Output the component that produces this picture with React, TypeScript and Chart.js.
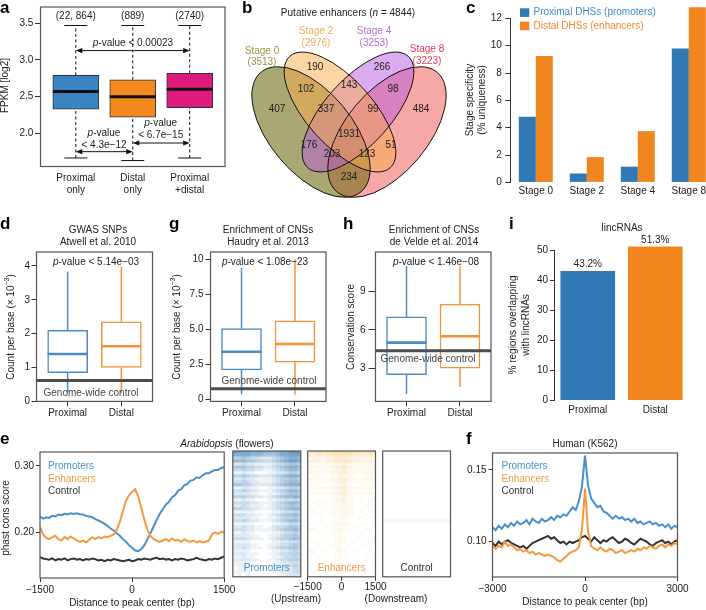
import React, { useEffect, useRef } from 'react';
import { Chart, registerables } from 'chart.js';

Chart.register(...registerables);

const FONT = "'Liberation Sans', Arial, Helvetica, sans-serif";
Chart.defaults.font.family = FONT;
Chart.defaults.font.size = 10;
Chart.defaults.color = '#222';

/* ======================= DATA ======================= */
// Panel a
const A_CATS = [['Proximal', 'only'], ['Distal', 'only'], ['Proximal', '+distal']];
const A_N = ['(22, 864)', '(889)', '(2740)'];
const A_LOW = [1.665, 1.63, 1.665];
const A_Q1 = [2.33, 2.22, 2.35];
const A_MED = [2.57, 2.5, 2.6];
const A_Q3 = [2.79, 2.73, 2.82];
const A_HIGH = [3.47, 3.47, 3.47];
const A_TICKS = [2.0, 2.5, 3.0, 3.5];
const A_TESTS = [[1, 3, 3.128], [1, 2, 1.751], [2, 3, 1.869]];
const A_PTEXT = ['< 0.00023', '< 4.3e\u221212', '< 6.7e\u221215'];

// Panel b
const B_SETS = ['Stage 0', 'Stage 2', 'Stage 4', 'Stage 8'];
const B_SIZES = ['(3513)', '(2976)', '(3253)', '(3223)'];
const B_TOTAL = 4844;
const B_COUNTS = [407, 190, 266, 484, 102, 143, 98, 337, 99, 1931, 176, 51, 203, 123, 234];

// Panel c
const C_CATS = ['Stage 0', 'Stage 2', 'Stage 4', 'Stage 8'];
const C_PROX = [4.8, 0.65, 1.15, 9.8];
const C_DIST = [9.25, 1.85, 3.75, 12.8];
const C_LABELS = ['Proximal DHSs (promoters)', 'Distal DHSs (enhancers)'];
const C_TICKS = [0, 2, 4, 6, 8, 10, 12];

// Panels d, g, h
const BOX_CATS = ['Proximal', 'Distal'];
const D_LOW = [0.27, 0.25];
const D_Q1 = [0.85, 1.0];
const D_MED = [1.4, 1.63];
const D_Q3 = [2.1, 2.35];
const D_HIGH = [3.83, 3.98];
const D_CONTROL = 0.62;
const D_TICKS = [0, 1, 2, 3, 4];

const G_LOW = [0.35, 0.35];
const G_Q1 = [2.1, 2.65];
const G_MED = [3.4, 3.95];
const G_Q3 = [5.05, 5.6];
const G_HIGH = [9.4, 10.0];
const G_CONTROL = 0.76;
const G_TICKS = [0, 2.5, 5, 7.5, 10];

const H_LOW = [1.0, 1.55];
const H_Q1 = [2.5, 3.0];
const H_MED = [5.0, 5.5];
const H_Q3 = [7.0, 8.0];
const H_HIGH = [10.95, 10.95];
const H_CONTROL = 4.36;
const H_TICKS = [3, 6, 9];

// Panel i
const I_CATS = ['Proximal', 'Distal'];
const I_VALS = [43.2, 51.3];
const I_TICKS = [0, 10, 20, 30, 40, 50];

// Panel e (Arabidopsis)
const E_X = [
  -1500, -1450, -1400, -1350, -1300, -1250, -1200, -1150, -1100, -1050,
  -1000, -950, -900, -850, -800, -750, -700, -650, -600, -550,
  -500, -450, -400, -350, -300, -250, -200, -150, -100, -50,
  0,
  50, 100, 150, 200, 250, 300, 350, 400, 450, 500,
  550, 600, 650, 700, 750, 800, 850, 900, 950, 1000,
  1050, 1100, 1150, 1200, 1250, 1300, 1350, 1400, 1450, 1500,
];
const E_PROM = [
  0.224, 0.221, 0.223, 0.222, 0.225, 0.224, 0.227, 0.226, 0.228, 0.227,
  0.229, 0.228, 0.229, 0.227, 0.227, 0.225, 0.224, 0.223, 0.220, 0.218,
  0.216, 0.213, 0.210, 0.206, 0.203, 0.199, 0.195, 0.190, 0.186, 0.181,
  0.177,
  0.173, 0.172, 0.175, 0.181, 0.190, 0.199, 0.209, 0.219, 0.228, 0.235,
  0.242, 0.246, 0.253, 0.256, 0.263, 0.265, 0.271, 0.273, 0.278, 0.279,
  0.283, 0.282, 0.286, 0.289, 0.289, 0.292, 0.294, 0.294, 0.297, 0.298,
];
const E_ENH = [
  0.208, 0.197, 0.192, 0.190, 0.193, 0.195, 0.190, 0.188, 0.193, 0.190,
  0.194, 0.191, 0.188, 0.186, 0.188, 0.185, 0.189, 0.193, 0.190, 0.193,
  0.191, 0.194, 0.193, 0.195, 0.197, 0.204, 0.216, 0.232, 0.248, 0.256,
  0.261,
  0.265, 0.254, 0.237, 0.219, 0.204, 0.195, 0.190, 0.188, 0.186, 0.188,
  0.190, 0.187, 0.191, 0.188, 0.189, 0.186, 0.190, 0.187, 0.186, 0.188,
  0.185, 0.187, 0.185, 0.186, 0.188, 0.197, 0.200, 0.198, 0.201, 0.200,
];
const E_CTRL = [
  0.163, 0.161, 0.160, 0.159, 0.161, 0.158, 0.160, 0.159, 0.161, 0.158,
  0.160, 0.161, 0.159, 0.160, 0.158, 0.160, 0.159, 0.161, 0.160, 0.158,
  0.159, 0.157, 0.159, 0.158, 0.160, 0.159, 0.158, 0.157, 0.158, 0.159,
  0.157,
  0.158, 0.160, 0.159, 0.161, 0.160, 0.159, 0.161, 0.162, 0.160, 0.161,
  0.159, 0.160, 0.158, 0.160, 0.159, 0.161, 0.160, 0.158, 0.159, 0.160,
  0.162, 0.160, 0.159, 0.158, 0.160, 0.159, 0.161, 0.160, 0.162, 0.164,
];
const E_X_TICKS = [-1500, 0, 1500];
const E_Y_TICKS = [0.2, 0.3];

// Heatmaps (intensity 0-9, rows top to bottom, columns -1500..1500)
const HEAT_TICKS = [-1500, 0, 1500];
const HEAT_PROM = [
  '8888777666788999', '7777666555677888', '4454332223456776', '6665544334567887',
  '2232211112334554', '5554433223456776', '3343322112345665', '1121100011223443',
  '4454332223456776', '2232211112344554', '3343221112345665', '5544322223456777',
  '1122110011223443', '3343221112345665', '2222110011234554', '4443322123456676',
  '1121100011223343', '3333221112345665', '2232111012334554', '4433221112345666',
  '1111100001123343', '3332211012345565', '2222110011234454', '3343221112345665',
  '1111100001122333', '2232211012334554', '3332211112345565', '1121100001123343',
  '2222110011234454', '3332211012344565', '1111000001122333', '2222110011233454',
  '2232111012344554', '1111000001122343', '2221110011233444', '1121100001123343',
  '2222110011233444', '1111000001122333', '1121100011223343', '0111000001112233',
  '1111000001122233', '0101000000112222',
];
const HEAT_ENH = [
  '5565667777665565', '3343445555443343', '1221223332221121', '3332334454333232',
  '1111112221111111', '2221123343211212', '1111112231111111', '2121122342111212',
  '0110011221100110', '2111122332111211', '1111112231111111', '0100011121000100',
  '1111122332111111', '0101011221101010', '1111112231111111', '0000011121000000',
  '1011012231101011', '0101011121101010', '1010011221100101', '0000001111000000',
  '1101011221101011', '0010011121100100', '1001001121001001', '0000001110000000',
  '1010011221010101', '0000101110010000', '1100011211000110', '0010011110001000',
  '0000001100000000', '1001001210010001', '0100001110100010', '0010011101000100',
  '0000001100000000', '1001001210010010', '0100001110000100', '0010000100010000',
  '0000101100000100', '1000001110010000', '0001000100000001', '0000001100100000',
  '0100000100000100', '0000000100000000',
];
const HEAT_CTRL = [
  '0000000000000000', '0000000000000000', '0000000000000000', '0000000000000000',
  '0000000000000000', '0000000000000000', '0000000000000000', '0000000000000000',
  '0000000000000000', '0000000000000000', '0000000000000000', '0000000000000000',
  '0000000000000000', '0000000000000000', '0000000000000000', '0000000000000000',
  '0000000000000000', '0000000000000000', '0000000000000000', '0000000000000000',
  '0000000000000000', '0000000000000000', '0000000000000000', '1111111111111111',
  '0000000000000000', '0000000000000000', '0000000000000000', '0000000000000000',
  '0000000000000000', '0000000000000000', '0000000000000000', '0000000000000000',
  '0000000000000000', '0000000000000000', '0000000000000000', '0000000000000000',
  '0000000000000000', '0000000000000000', '0000000000000000', '0000000000000000',
  '0000000000000000', '0000000000000000',
];

// Panel f (Human K562)
const F_X = [
  -3000, -2900, -2800, -2700, -2600, -2500, -2400, -2300, -2200, -2100,
  -2000, -1900, -1800, -1700, -1600, -1500, -1400, -1300, -1200, -1100,
  -1000, -900, -800, -700, -600, -500, -400, -300, -200, -100,
  0,
  100, 200, 300, 400, 500, 600, 700, 800, 900, 1000,
  1100, 1200, 1300, 1400, 1500, 1600, 1700, 1800, 1900, 2000,
  2100, 2200, 2300, 2400, 2500, 2600, 2700, 2800, 2900, 3000,
];
const F_PROM = [
  0.110, 0.108, 0.111, 0.109, 0.112, 0.110, 0.113, 0.111, 0.114, 0.112,
  0.113, 0.115, 0.112, 0.116, 0.114, 0.113, 0.116, 0.114, 0.115, 0.117,
  0.115, 0.118, 0.117, 0.119, 0.118, 0.121, 0.124, 0.122, 0.128, 0.138,
  0.160,
  0.139, 0.130, 0.127, 0.124, 0.125, 0.121, 0.120, 0.118, 0.116, 0.118,
  0.116, 0.117, 0.115, 0.116, 0.114, 0.116, 0.113, 0.114, 0.112, 0.113,
  0.114, 0.112, 0.113, 0.111, 0.112, 0.110, 0.112, 0.109, 0.111, 0.110,
];
const F_ENH = [
  0.097, 0.095, 0.097, 0.096, 0.100, 0.097, 0.098, 0.096, 0.094, 0.095,
  0.093, 0.094, 0.092, 0.093, 0.091, 0.092, 0.091, 0.090, 0.091, 0.090,
  0.089, 0.087, 0.086, 0.088, 0.090, 0.092, 0.093, 0.094, 0.096, 0.108,
  0.137,
  0.107, 0.097, 0.095, 0.094, 0.096, 0.094, 0.093, 0.095, 0.094, 0.092,
  0.093, 0.094, 0.092, 0.093, 0.094, 0.093, 0.095, 0.094, 0.096, 0.095,
  0.097, 0.096, 0.095, 0.097, 0.098, 0.096, 0.098, 0.097, 0.099, 0.098,
];
const F_CTRL = [
  0.099, 0.097, 0.100, 0.098, 0.100, 0.101, 0.099, 0.098, 0.097, 0.096,
  0.097, 0.095, 0.097, 0.099, 0.100, 0.101, 0.102, 0.103, 0.104, 0.102,
  0.103, 0.101, 0.099, 0.100, 0.098, 0.100, 0.099, 0.100, 0.101, 0.103,
  0.104,
  0.102, 0.100, 0.103, 0.101, 0.099, 0.101, 0.100, 0.102, 0.103, 0.101,
  0.099, 0.100, 0.102, 0.101, 0.099, 0.098, 0.100, 0.102, 0.101, 0.100,
  0.098, 0.097, 0.099, 0.100, 0.101, 0.099, 0.100, 0.098, 0.100, 0.101,
];
const F_X_TICKS = [-3000, 0, 3000];
const F_Y_TICKS = [0.1, 0.15];
const LINE_NAMES = ['Promoters', 'Enhancers', 'Control'];

/* ======================= STYLE ======================= */
const A_COLORS = ['#3a84c1', '#f48a1f', '#e0197d'];
const BAR_BLUE = '#3179b5';
const BAR_ORANGE = '#f2861e';
const BOX_COLORS = ['#4b8cc3', '#f39237'];
const LINE_COLORS = ['#4a90c8', '#f39a3f', '#333333'];
const MINUS = '\u2212';

/* ======================= HELPERS ======================= */
function rich(ctx: any, x: number, y: number, segs: any, o: any = {}) {
  const list = typeof segs === 'string' ? [{ t: segs }] : segs;
  const size = o.size ?? 10;
  ctx.save();
  ctx.translate(x, y);
  if (o.rot) ctx.rotate(o.rot);
  ctx.textBaseline = o.baseline ?? 'middle';
  ctx.textAlign = 'left';
  const fonts = list.map((s: any) => `${s.it || o.it ? 'italic ' : ''}${o.bold ? 'bold ' : ''}${s.size ?? size}px ${FONT}`);
  const ws = list.map((s: any, i: number) => { ctx.font = fonts[i]; return ctx.measureText(s.t).width; });
  const tot = ws.reduce((a: number, b: number) => a + b, 0);
  let cx = o.align === 'left' ? 0 : o.align === 'right' ? -tot : -tot / 2;
  list.forEach((s: any, i: number) => {
    ctx.font = fonts[i];
    ctx.fillStyle = s.color ?? o.color ?? '#222';
    ctx.fillText(s.t, cx, s.dy ?? 0);
    cx += ws[i];
  });
  ctx.restore();
}
function ln(ctx: any, x1: number, y1: number, x2: number, y2: number) {
  ctx.beginPath(); ctx.moveTo(x1, y1); ctx.lineTo(x2, y2); ctx.stroke();
}
function arrow2(ctx: any, x1: number, x2: number, y: number) {
  ln(ctx, x1 + 2, y, x2 - 2, y);
  const head = (x: number, d: number) => {
    ctx.beginPath(); ctx.moveTo(x, y); ctx.lineTo(x + d * 6.5, y - 2.6); ctx.lineTo(x + d * 6.5, y + 2.6); ctx.closePath(); ctx.fill();
  };
  head(x1, 1); head(x2, -1);
}
function frameRect(chart: any, color = '#555', lw = 1.2) {
  const { ctx, chartArea: a } = chart;
  ctx.save(); ctx.strokeStyle = color; ctx.lineWidth = lw;
  ctx.strokeRect(a.left, a.top, a.right - a.left, a.bottom - a.top);
  ctx.restore();
}
const pager = (chart: any, ox: number, oy: number) => (x: number, y: number, segs: any, o?: any) => rich(chart.ctx, x - ox, y - oy, segs, o);
const letter = (T: any, x: number, y: number, s: string) => T(x, y, s, { bold: true, size: 17, align: 'left', baseline: 'alphabetic', color: '#000' });
const fixW = (w: number) => (s: any) => { s.width = w; s.paddingTop = 0; s.paddingBottom = 0; s.paddingLeft = 0; s.paddingRight = 0; };
const fixH = (h: number) => (s: any) => { s.height = h; s.paddingTop = 0; s.paddingBottom = 0; s.paddingLeft = 0; s.paddingRight = 0; };
const setTicks = (vals: number[]) => (s: any) => { s.ticks = vals.map((v) => ({ value: v })); };
const minus = (v: any) => (Number(v) < 0 ? MINUS + Math.abs(Number(v)) : String(v));
const tickGrid = (len: number) => ({ display: true, drawOnChartArea: false, drawTicks: true, tickLength: len, color: '#333', lineWidth: 1, offset: false });
const noGrid = { display: false, drawTicks: false, offset: false };
const base = (pad: any) => ({
  responsive: false, maintainAspectRatio: false, animation: false, events: [],
  layout: { autoPadding: false, padding: pad },
  plugins: { legend: { display: false }, tooltip: { enabled: false } },
});
const shade = (rgb: number[], v: number, k: number) => {
  const f = (v / 9) * k;
  const c = rgb.map((ch) => Math.round(255 - (255 - ch) * f));
  return `rgb(${c[0]},${c[1]},${c[2]})`;
};

function drawWhiskers(chart: any, S: any, colors: string[], o: any) {
  const { ctx } = chart; const xs = chart.scales.x, ys = chart.scales.y;
  ctx.save();
  S.q1.forEach((_: any, i: number) => {
    const cx = xs.getPixelForValue(i + 1);
    ctx.strokeStyle = colors[i]; ctx.lineWidth = o.lw;
    ctx.setLineDash(o.dash || []);
    ln(ctx, cx, ys.getPixelForValue(S.q3[i]), cx, ys.getPixelForValue(S.high[i]));
    ln(ctx, cx, ys.getPixelForValue(S.low[i]), cx, ys.getPixelForValue(S.q1[i]));
    ctx.setLineDash([]);
    if (o.cap) {
      ln(ctx, cx - o.cap, ys.getPixelForValue(S.high[i]), cx + o.cap, ys.getPixelForValue(S.high[i]));
      ln(ctx, cx - o.cap, ys.getPixelForValue(S.low[i]), cx + o.cap, ys.getPixelForValue(S.low[i]));
    }
  });
  ctx.restore();
}
function drawMedians(chart: any, S: any, colors: string[], half: number, lw: number) {
  const { ctx } = chart; const xs = chart.scales.x, ys = chart.scales.y;
  ctx.save();
  S.med.forEach((m: number, i: number) => {
    const cx = xs.getPixelForValue(i + 1); const y = ys.getPixelForValue(m);
    ctx.strokeStyle = colors[i]; ctx.lineWidth = lw;
    ln(ctx, cx - half, y, cx + half, y);
  });
  ctx.restore();
}

/* ======================= PANEL a ======================= */
function buildA(ox: number, oy: number, w: number, h: number) {
  const L = 40.5, T = 7, R = 225, B = 166.5;
  const S = { low: A_LOW, q1: A_Q1, med: A_MED, q3: A_Q3, high: A_HIGH };
  const blk = ['#111', '#111', '#111'];
  return {
    type: 'bar',
    data: { datasets: [{ data: A_Q1.map((q, i) => ({ x: i + 1, y: [q, A_Q3[i]] })), backgroundColor: A_COLORS, borderColor: '#333', borderWidth: 1, borderSkipped: false, barThickness: 46 }] },
    options: {
      ...base({ left: 0, top: T - oy, right: ox + w - R, bottom: 0 }),
      scales: {
        x: { type: 'linear', offset: false, min: 0.38, max: 3.62, afterBuildTicks: setTicks([1, 2, 3]), afterFit: fixH(oy + h - B), grid: noGrid, border: { display: false }, ticks: { padding: 5.5, autoSkip: false, maxRotation: 0, callback: (v: any) => A_CATS[Number(v) - 1] } },
        y: { type: 'linear', min: 1.549, max: 3.722, afterBuildTicks: setTicks(A_TICKS), afterFit: fixW(L - ox), grid: tickGrid(5.5), border: { display: false }, ticks: { padding: 1.7, callback: (v: any) => Number(v).toFixed(1) } },
      },
    },
    plugins: [{
      id: 'pa',
      beforeDatasetsDraw(chart: any) { drawWhiskers(chart, S, blk, { lw: 1, dash: [3, 2.5], cap: 11.5 }); },
      afterDatasetsDraw(chart: any) { drawMedians(chart, S, blk, 23, 3); },
      afterDraw(chart: any) {
        const { ctx } = chart; const xs = chart.scales.x, ys = chart.scales.y;
        frameRect(chart, '#555', 1.2);
        const T2 = pager(chart, ox, oy);
        A_N.forEach((s, i) => rich(ctx, xs.getPixelForValue(i + 1), 16.7 - oy, s));
        ctx.save(); ctx.strokeStyle = '#111'; ctx.fillStyle = '#111'; ctx.lineWidth = 1;
        A_TESTS.forEach(([a, b, lv]) => arrow2(ctx, xs.getPixelForValue(a), xs.getPixelForValue(b), ys.getPixelForValue(lv)));
        ctx.restore();
        T2(133, 43.5, [{ t: 'p', it: true }, { t: '-value ' + A_PTEXT[0] }]);
        T2(104, 133, [{ t: 'p', it: true }, { t: '-value' }]);
        T2(104, 145, A_PTEXT[1]);
        T2(160.7, 123.7, [{ t: 'p', it: true }, { t: '-value' }]);
        T2(160.7, 135.4, A_PTEXT[2]);
        T2(5.5, 85.5, 'FPKM [log2]', { rot: -Math.PI / 2 });
        letter(T2, 0, 13, 'a');
      },
    }],
  };
}

/* ======================= PANEL b (Venn) ======================= */
const VENN_SHAPES = [
  { cx: 311, cy: 132, a: 78, b: 41, rot: 50, fill: 'rgba(112,108,22,0.6)' },
  { cx: 340, cy: 112, a: 75, b: 33, rot: 48, fill: 'rgba(252,172,76,0.5)' },
  { cx: 358, cy: 112, a: 75, b: 33, rot: -48, fill: 'rgba(186,92,222,0.5)' },
  { cx: 387, cy: 132, a: 78, b: 41, rot: -50, fill: 'rgba(236,82,78,0.5)' },
];
const VENN_ORDER = [3, 0, 2, 1];
const VENN_LABEL_XY = [[277, 109], [315, 67], [382, 67], [421, 109], [306, 89.5], [349, 85], [393, 89.5], [326, 109], [373, 109], [349, 134], [309, 145], [391, 145], [332, 154], [367, 154], [349, 177]];
const VENN_SET_XY = [[262, 51], [316, 31.6], [374, 31.6], [427, 49.5]];
const VENN_SET_COLORS = ['#96953f', '#f5ab55', '#b66fd6', '#e23a57'];

function buildB(ox: number, oy: number, w: number, h: number) {
  const L = 245, T = 28, R = 455, B = 200;
  return {
    type: 'scatter',
    data: { datasets: [{ data: B_COUNTS.map((_, i) => ({ x: VENN_LABEL_XY[i][0], y: VENN_LABEL_XY[i][1] })), pointRadius: 0 }] },
    options: {
      ...base({ left: L - ox, top: T - oy, right: ox + w - R, bottom: oy + h - B }),
      scales: {
        x: { type: 'linear', min: L, max: R, display: false },
        y: { type: 'linear', min: T, max: B, reverse: true, display: false },
      },
    },
    plugins: [{
      id: 'pb',
      beforeDatasetsDraw(chart: any) {
        const { ctx } = chart; const xs = chart.scales.x, ys = chart.scales.y;
        ctx.save();
        const path = (e: any) => { ctx.beginPath(); ctx.ellipse(xs.getPixelForValue(e.cx), ys.getPixelForValue(e.cy), e.a, e.b, (e.rot * Math.PI) / 180, 0, Math.PI * 2); };
        VENN_ORDER.forEach((k) => { const e = VENN_SHAPES[k]; path(e); ctx.fillStyle = e.fill; ctx.fill(); });
        ctx.strokeStyle = '#111'; ctx.lineWidth = 1;
        VENN_SHAPES.forEach((e) => { path(e); ctx.stroke(); });
        ctx.restore();
      },
      afterDatasetsDraw(chart: any) {
        const { ctx } = chart; const meta = chart.getDatasetMeta(0);
        meta.data.forEach((pt: any, i: number) => rich(ctx, pt.x, pt.y, String(B_COUNTS[i])));
      },
      afterDraw(chart: any) {
        const T2 = pager(chart, ox, oy);
        T2(348, 13.5, [{ t: 'Putative enhancers (' }, { t: 'n', it: true }, { t: ' = ' + B_TOTAL + ')' }]);
        B_SETS.forEach((s, i) => {
          T2(VENN_SET_XY[i][0], VENN_SET_XY[i][1], s, { color: VENN_SET_COLORS[i] });
          T2(VENN_SET_XY[i][0], VENN_SET_XY[i][1] + 11.5, B_SIZES[i], { color: VENN_SET_COLORS[i] });
        });
        letter(T2, 242, 13, 'b');
      },
    }],
  };
}

/* ======================= PANEL c ======================= */
function buildC(ox: number, oy: number, w: number, h: number) {
  const L = 510.3, T = 18.3, R = 714.3, B = 182.4;
  return {
    type: 'bar',
    data: {
      labels: C_CATS,
      datasets: [
        { data: C_PROX, backgroundColor: BAR_BLUE, borderWidth: 0, categoryPercentage: 0.667, barPercentage: 1, clip: false },
        { data: C_DIST, backgroundColor: BAR_ORANGE, borderWidth: 0, categoryPercentage: 0.667, barPercentage: 1, clip: false },
      ],
    },
    options: {
      ...base({ left: 0, top: T - oy, right: ox + w - R, bottom: 0 }),
      scales: {
        x: { type: 'category', afterFit: fixH(oy + h - B), grid: noGrid, border: { display: false }, ticks: { padding: 3, autoSkip: false, maxRotation: 0 } },
        y: { type: 'linear', min: 0, max: 12, afterBuildTicks: setTicks(C_TICKS), afterFit: fixW(L - ox), grid: tickGrid(5), border: { display: true, color: '#333', width: 1 }, ticks: { padding: 3.5 } },
      },
    },
    plugins: [{
      id: 'pc',
      afterDraw(chart: any) {
        const { ctx } = chart;
        const T2 = pager(chart, ox, oy);
        ctx.save();
        ctx.fillStyle = BAR_BLUE; ctx.fillRect(520 - ox, 8.3 - oy, 9.3, 8.6);
        ctx.fillStyle = BAR_ORANGE; ctx.fillRect(520 - ox, 21.6 - oy, 9.3, 8.6);
        ctx.restore();
        T2(533.5, 12.7, C_LABELS[0], { align: 'left', color: '#3f8cc9' });
        T2(533.5, 26, C_LABELS[1], { align: 'left', color: '#f28a2a' });
        T2(470.5, 100, 'Stage specificity', { rot: -Math.PI / 2 });
        T2(482.7, 100, '(% uniqueness)', { rot: -Math.PI / 2 });
        letter(T2, 466, 13, 'c');
      },
    }],
  };
}

/* ======================= PANELS d, g, h ======================= */
function buildBox(cfg: any) {
  return (ox: number, oy: number, w: number, h: number) => {
    const [L, T, R, B] = cfg.frame;
    const S = cfg.stats;
    return {
      type: 'bar',
      data: { datasets: [{ data: S.q1.map((q: number, i: number) => ({ x: i + 1, y: [q, S.q3[i]] })), backgroundColor: '#ffffff', borderColor: BOX_COLORS, borderWidth: 1.5, borderSkipped: false, barThickness: 40 }] },
      options: {
        ...base({ left: 0, top: T - oy, right: ox + w - R, bottom: 0 }),
        scales: {
          x: { type: 'linear', offset: false, min: 0.42, max: 2.58, afterBuildTicks: setTicks([1, 2]), afterFit: fixH(oy + h - B), grid: tickGrid(5), border: { display: false }, ticks: { padding: 1, autoSkip: false, maxRotation: 0, callback: (v: any) => BOX_CATS[Number(v) - 1] } },
          y: { type: 'linear', min: cfg.yMin, max: cfg.yMax, afterBuildTicks: setTicks(cfg.ticks), afterFit: fixW(L - ox), grid: tickGrid(cfg.tl), border: { display: false }, ticks: { padding: cfg.tp, callback: cfg.fmt } },
        },
      },
      plugins: [{
        id: 'pbox',
        beforeDatasetsDraw(chart: any) { drawWhiskers(chart, S, BOX_COLORS, { lw: 1.5 }); },
        afterDatasetsDraw(chart: any) {
          drawMedians(chart, S, BOX_COLORS, 20, 2.6);
          const { ctx, chartArea: a } = chart; const ys = chart.scales.y;
          ctx.save(); ctx.strokeStyle = '#4d4d4d'; ctx.lineWidth = 3;
          const y = ys.getPixelForValue(cfg.control);
          ln(ctx, a.left, y, a.right, y);
          ctx.restore();
        },
        afterDraw(chart: any) {
          frameRect(chart, '#555', 1.2);
          const T2 = pager(chart, ox, oy);
          T2(cfg.ctrlXY[0], cfg.ctrlXY[1], 'Genome-wide control', { color: '#444' });
          T2(cfg.titleX, 230.6, cfg.title[0]);
          T2(cfg.titleX, 242.7, cfg.title[1]);
          T2(cfg.pX, 261.8, [{ t: 'p', it: true }, { t: '-value ' + cfg.p }]);
          T2(cfg.yTitleX, 327, cfg.yTitle, { rot: -Math.PI / 2 });
          letter(T2, cfg.letterX, 228.5, cfg.letter);
        },
      }],
    };
  };
}
const COUNT_TITLE = [{ t: 'Count per base (\u00d7 10' }, { t: MINUS + '3', size: 7, dy: -4 }, { t: ')' }];
const buildD = buildBox({
  frame: [36.5, 252, 152.5, 401.4], yMin: 0, yMax: 4.41, ticks: D_TICKS, tl: 5, tp: 1.5, fmt: (v: any) => String(v),
  stats: { low: D_LOW, q1: D_Q1, med: D_MED, q3: D_Q3, high: D_HIGH }, control: D_CONTROL, ctrlXY: [91, 393],
  title: ['GWAS SNPs', 'Atwell et al. 2010'], titleX: 98, p: '< 5.14e' + MINUS + '03', pX: 96, yTitle: COUNT_TITLE, yTitleX: 11.5, letter: 'd', letterX: 0,
});
const buildG = buildBox({
  frame: [210.5, 252, 326, 401.4], yMin: -0.15, yMax: 10.52, ticks: G_TICKS, tl: 5, tp: 2, fmt: (v: any) => (Number(v) === 0 ? '0' : Number(v) === 10 ? '10' : Number(v).toFixed(1)),
  stats: { low: G_LOW, q1: G_Q1, med: G_MED, q3: G_Q3, high: G_HIGH }, control: G_CONTROL, ctrlXY: [269, 380.8],
  title: ['Enrichment of CNSs', 'Haudry et al. 2013'], titleX: 268, p: '< 1.08e' + MINUS + '23', pX: 265, yTitle: COUNT_TITLE, yTitleX: 177.5, letter: 'g', letterX: 169,
});
const buildH = buildBox({
  frame: [375.5, 252, 491, 401.4], yMin: 0.42, yMax: 12.06, ticks: H_TICKS, tl: 7, tp: 3, fmt: (v: any) => String(v),
  stats: { low: H_LOW, q1: H_Q1, med: H_MED, q3: H_Q3, high: H_HIGH }, control: H_CONTROL, ctrlXY: [428, 359.4],
  title: ['Enrichment of CNSs', 'de Velde et al. 2014'], titleX: 434, p: '< 1.46e' + MINUS + '08', pX: 436, yTitle: 'Conservation score', yTitleX: 351, letter: 'h', letterX: 343,
});

/* ======================= PANEL i ======================= */
function buildI(ox: number, oy: number, w: number, h: number) {
  const L = 554, T = 250.5, R = 689, B = 400.6;
  return {
    type: 'bar',
    data: { labels: I_CATS, datasets: [{ data: I_VALS, backgroundColor: [BAR_BLUE, BAR_ORANGE], borderWidth: 0, barPercentage: 0.81, categoryPercentage: 1, clip: false }] },
    options: {
      ...base({ left: 0, top: T - oy, right: ox + w - R, bottom: 0 }),
      scales: {
        x: { type: 'category', afterFit: fixH(oy + h - B), grid: noGrid, border: { display: false }, ticks: { padding: 3.7, autoSkip: false, maxRotation: 0 } },
        y: { type: 'linear', min: 0, max: 50, afterBuildTicks: setTicks(I_TICKS), afterFit: fixW(L - ox), grid: tickGrid(4), border: { display: true, color: '#333', width: 1 }, ticks: { padding: 2 } },
      },
    },
    plugins: [{
      id: 'pi',
      afterDraw(chart: any) {
        const { ctx } = chart; const meta = chart.getDatasetMeta(0);
        meta.data.forEach((bar: any, i: number) => rich(ctx, bar.x, bar.y - 6.5, I_VALS[i].toFixed(1) + '%'));
        const T2 = pager(chart, ox, oy);
        T2(622, 228, 'lincRNAs');
        T2(513.5, 325, '% regions overlapping', { rot: -Math.PI / 2 });
        T2(526, 325, 'with lincRNAs', { rot: -Math.PI / 2 });
        letter(T2, 509, 228.5, 'i');
      },
    }],
  };
}

/* ======================= LINE PANELS e, f ======================= */
function buildLine(cfg: any) {
  return (ox: number, oy: number, w: number, h: number) => {
    const [L, T, R, B] = cfg.frame;
    const order = [1, 0, 2];
    return {
      type: 'line',
      data: {
        datasets: order.map((k) => ({
          data: cfg.X.map((x: number, i: number) => ({ x, y: cfg.series[k][i] })),
          borderColor: LINE_COLORS[k], borderWidth: 2, pointRadius: 0, tension: 0, fill: false,
        })),
      },
      options: {
        ...base({ left: 0, top: T - oy, right: ox + w - R, bottom: 0 }),
        scales: {
          x: { type: 'linear', min: cfg.xMin, max: cfg.xMax, afterBuildTicks: setTicks(cfg.xt), afterFit: fixH(oy + h - B), grid: tickGrid(4), border: { display: false }, ticks: { padding: cfg.xp, autoSkip: false, maxRotation: 0, callback: minus } },
          y: { type: 'linear', min: cfg.yMin, max: cfg.yMax, afterBuildTicks: setTicks(cfg.yt), afterFit: fixW(L - ox), grid: tickGrid(4), border: { display: false }, ticks: { padding: 2, callback: (v: any) => Number(v).toFixed(2) } },
        },
      },
      plugins: [{
        id: 'pline',
        afterDraw(chart: any) {
          frameRect(chart, '#555', 1.2);
          const T2 = pager(chart, ox, oy);
          LINE_NAMES.forEach((n, k) => T2(cfg.legX, 466.7 + k * 12.1, n, { align: 'left', color: LINE_COLORS[k] }));
          T2(cfg.xTitle[0], cfg.xTitle[1], 'Distance to peak center (bp)');
          T2(cfg.titleXY[0], cfg.titleXY[1], cfg.title);
          if (cfg.yTitle) T2(cfg.yTitle[0], cfg.yTitle[1], cfg.yTitle[2], { rot: -Math.PI / 2 });
          letter(T2, cfg.letterX, 443.5, cfg.letter);
        },
      }],
    };
  };
}
const buildE = buildLine({
  frame: [40, 452, 224.2, 578], X: E_X, series: [E_PROM, E_ENH, E_CTRL], xMin: -1500, xMax: 1500, xt: E_X_TICKS, xp: 2.5,
  yMin: 0.1316, yMax: 0.321, yt: E_Y_TICKS, legX: 48, xTitle: [132, 603.5], titleXY: [227, 443.8],
  title: [{ t: 'Arabidopsis', it: true }, { t: ' (flowers)' }], yTitle: [6, 518, 'phast cons score'], letter: 'e', letterX: 0,
});
const buildF = buildLine({
  frame: [492.5, 453, 677.5, 577], X: F_X, series: [F_PROM, F_ENH, F_CTRL], xMin: -3000, xMax: 3000, xt: F_X_TICKS, xp: 2,
  yMin: 0.0753, yMax: 0.1618, yt: F_Y_TICKS, legX: 501.5, xTitle: [585, 602.5], titleXY: [585, 443.8],
  title: 'Human (K562)', yTitle: null, letter: 'f', letterX: 466,
});

/* ======================= HEATMAPS ======================= */
function buildHeat(rows: string[], rgb: number[], k: number, frame: number[], label: string, labelColor: string, withAxis: boolean) {
  return (ox: number, oy: number, w: number, h: number) => {
    const [L, T, R, B] = frame;
    const cols = rows[0].length;
    const scales: any = {
      x: { type: 'linear', stacked: true, min: 0, max: cols, display: false },
      y: { type: 'category', stacked: true, display: false },
    };
    let padBottom = oy + h - B;
    if (withAxis) {
      scales.x2 = { type: 'linear', axis: 'x', position: 'bottom', min: -1500, max: 1500, afterBuildTicks: setTicks(HEAT_TICKS), afterFit: fixH(oy + h - B), grid: tickGrid(4), border: { display: false }, ticks: { padding: 0, autoSkip: false, maxRotation: 0, callback: minus } };
      padBottom = 0;
    }
    return {
      type: 'bar',
      data: {
        labels: rows.map((_, i) => String(i)),
        datasets: Array.from({ length: cols }, (_, j) => ({
          data: rows.map(() => 1),
          backgroundColor: rows.map((r) => shade(rgb, Number(r[j]), k)),
          borderWidth: 0, barPercentage: 1, categoryPercentage: 1, inflateAmount: 0.6,
        })),
      },
      options: { ...base({ left: L - ox, top: T - oy, right: ox + w - R, bottom: padBottom }), indexAxis: 'y', scales },
      plugins: [{
        id: 'pheat',
        afterDraw(chart: any) {
          frameRect(chart, '#555', 1.2);
          const a = chart.chartArea;
          rich(chart.ctx, (a.left + a.right) / 2, 568.6 - oy, label, { color: labelColor });
          if (withAxis) {
            const T2 = pager(chart, ox, oy);
            T2(296, 599, '(Upstream)');
            T2(396, 599, '(Downstream)');
          }
        },
      }],
    };
  };
}
const buildHeatP = buildHeat(HEAT_PROM, [40, 110, 170], 0.72, [232.8, 451, 300.8, 576.8], 'Promoters', '#4a90c8', false);
const buildHeatE = buildHeat(HEAT_ENH, [245, 170, 50], 0.55, [307.7, 451, 375.5, 576.8], 'Enhancers', '#f39a3f', true);
const buildHeatC = buildHeat(HEAT_CTRL, [150, 150, 150], 0.9, [382.7, 451, 450.5, 576.8], 'Control', '#333', false);

/* ======================= COMPONENTS ======================= */
function Panel({ x, y, w, h, build }: any) {
  const ref = useRef<HTMLCanvasElement | null>(null);
  useEffect(() => {
    if (!ref.current) return;
    const chart = new Chart(ref.current, build(x, y, w, h));
    return () => chart.destroy();
  }, []);
  return <canvas ref={ref} width={w} height={h} style={{ position: 'absolute', left: x, top: y, width: w, height: h }} />;
}

export default function App() {
  return (
    <div style={{ position: 'fixed', left: 0, top: 0, width: 706, height: 610, overflow: 'hidden', background: '#fff' }}>
      <Panel x={0} y={0} w={240} h={200} build={buildA} />
      <Panel x={238} y={0} w={232} h={205} build={buildB} />
      <Panel x={463} y={0} w={262} h={200} build={buildC} />
      <Panel x={0} y={214} w={160} h={206} build={buildD} />
      <Panel x={165} y={214} w={172} h={206} build={buildG} />
      <Panel x={338} y={214} w={160} h={206} build={buildH} />
      <Panel x={505} y={214} w={201} h={206} build={buildI} />
      <Panel x={0} y={430} w={300} h={180} build={buildE} />
      <Panel x={228} y={445} w={80} h={140} build={buildHeatP} />
      <Panel x={265} y={445} w={165} h={165} build={buildHeatE} />
      <Panel x={378} y={445} w={80} h={140} build={buildHeatC} />
      <Panel x={460} y={430} w={246} h={180} build={buildF} />
    </div>
  );
}
